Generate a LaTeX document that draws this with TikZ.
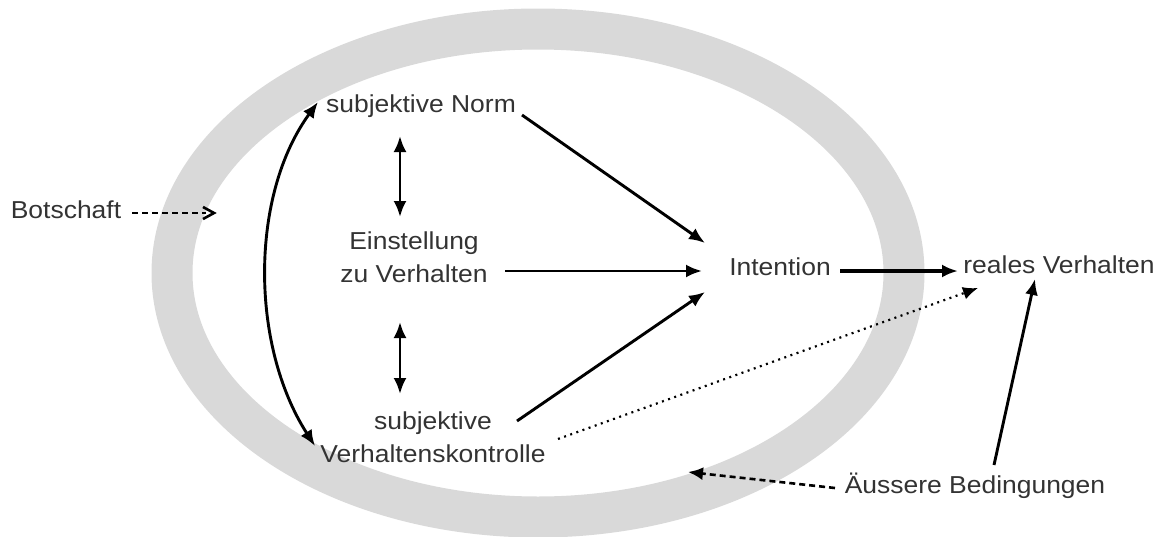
\documentclass[tikz,border=0pt]{standalone}
\usepackage{fontspec}
\setmainfont[FakeStretch=1.08]{Liberation Sans}
\usetikzlibrary{arrows.meta,calc}
\definecolor{ringgray}{HTML}{D9D9D9}
\definecolor{txt}{HTML}{333333}
\tikzset{
  lbl/.style={text=txt,font=\fontsize{24.5}{33}\selectfont,inner sep=0pt,align=center},
  arr/.style={line width=2.9pt,-{Latex[length=16pt,width=13pt]}},
  dbl/.style={line width=2.9pt,{Latex[length=16pt,width=13pt]}-{Latex[length=16pt,width=13pt]}},
  dasharr/.style={line width=2.6pt,dash pattern=on 6pt off 4pt},
  dotarr/.style={line width=2.2pt,dash pattern=on 2pt off 4.5pt,-{Latex[length=15pt,width=13pt]}}
}
\begin{document}
\begin{tikzpicture}[x=1pt,y=-1pt]
\useasboundingbox (0,0) rectangle (1163,536);
\draw[ringgray,line width=41pt] (538,273) ellipse [x radius=366, y radius=244];

\node[lbl,anchor=base] (bot) at (66,218) {Botschaft};
\node[lbl,anchor=base] (norm) at (421,112) {subjektive Norm};
\node[lbl,anchor=center] (einst) at (414,257) {Einstellung\\zu Verhalten};
\node[lbl,anchor=center] (ctrl) at (433,437) {subjektive\\Verhaltenskontrolle};
\node[lbl,anchor=base] (intent) at (780,275) {Intention};
\node[lbl,anchor=base] (real) at (1059,273) {reales Verhalten};
\node[lbl,anchor=base] (aeus) at (975,493) {Äussere Bedingungen};

\coordinate (botTip) at (214,213);
\coordinate (ringTip) at (688,472);

% Botschaft dashed
\draw[dasharr] ($(bot.base)+(66,-5)$) -- ($(botTip)+(-8,0)$);
\draw[line width=2.6pt] ($(botTip)+(-11,-6)$) -- (botTip) -- ($(botTip)+(-11,6)$);

% vertical double arrows
\draw[dbl] ($(norm.base)+(-21,24)$) -- ($(einst.center)+(-14,-40)$);
\draw[dbl] ($(einst.center)+(-14,65)$) -- ($(ctrl.center)+(-33,-43)$);

% curved double arrow
\draw[dbl] ($(norm.base)+(-103,-10)$) .. controls (250,195) and (250,345) .. ($(ctrl.center)+(-118,9)$);

% arrows to Intention
\draw[arr] ($(norm.base)+(101,3)$) -- ($(intent.base)+(-75,-32)$);
\draw[arr] ($(einst.center)+(91,14)$) -- ($(intent.base)+(-78,-4)$);
\draw[arr] ($(ctrl.center)+(84,-16)$) -- ($(intent.base)+(-75,17)$);

% Intention -> reales Verhalten
\draw[arr,line width=3.4pt] ($(intent.base)+(60,-4)$) -- ($(real.base)+(-101,-2)$);

% dotted
\draw[dotarr] ($(ctrl.center)+(125,2)$) -- ($(real.base)+(-81,15)$);

% Aeussere -> reales
\draw[arr] ($(aeus.base)+(19,-28)$) -- ($(real.base)+(-24,6)$);

% Aeussere dashed -> ring
\draw[dasharr,-{Latex[length=15pt,width=13pt]}] ($(aeus.base)+(-140,-5)$) -- (ringTip);
\end{tikzpicture}
\end{document}
